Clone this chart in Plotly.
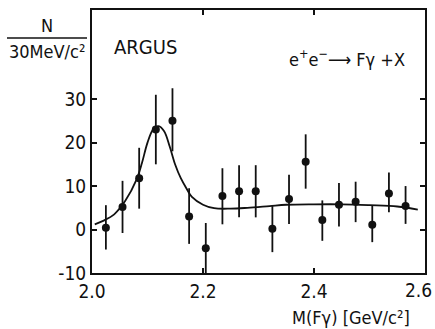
import plotly.graph_objects as go

# Data points (bin centres, counts, symmetric errors)
mass = [2.025, 2.055, 2.085, 2.115, 2.145, 2.175, 2.205, 2.235, 2.265, 2.295,
        2.325, 2.355, 2.385, 2.415, 2.445, 2.475, 2.505, 2.535, 2.565]
counts = [0.4, 5.2, 11.8, 23.0, 25.0, 3.0, -4.3, 7.7, 8.8, 8.8,
          0.2, 7.0, 15.6, 2.2, 5.7, 6.4, 1.1, 8.3, 5.4]
err_up = [5.2, 6.0, 7.0, 8.0, 7.5, 6.5, 5.8, 6.4, 6.0, 6.0,
          5.2, 5.6, 6.3, 4.5, 5.0, 4.6, 4.5, 4.8, 4.6]
err_dn = [5.0, 6.0, 7.0, 8.0, 7.0, 6.3, 5.7, 6.5, 6.0, 6.0,
          5.4, 5.7, 6.2, 4.8, 5.0, 4.7, 4.0, 4.3, 4.1]

# Fit curve
fit_x = [2.005, 2.02, 2.04, 2.06, 2.08, 2.09, 2.10, 2.11, 2.12, 2.13, 2.14,
         2.15, 2.16, 2.17, 2.18, 2.20, 2.22, 2.25, 2.28, 2.32, 2.35, 2.40,
         2.45, 2.50, 2.55, 2.587]
fit_y = [1.2, 2.0, 3.5, 6.6, 11.4, 15.3, 20.0, 23.0, 23.8, 22.6, 19.1,
         14.9, 11.8, 9.5, 7.5, 5.7, 4.9, 4.8, 5.0, 5.4, 5.7, 5.8,
         5.8, 5.6, 5.3, 4.6]

x_ticks = [2.0, 2.2, 2.4, 2.6]
x_ticktext = ["2.0", "2.2", "2.4", "2.6"]
y_ticks = [-10, 0, 10, 20, 30]
y_ticktext = ["-10", "0", "10", "20", "30"]

FONT = "DejaVu Sans Condensed, DejaVu Sans, sans-serif"
INK = "#111111"

fig = go.Figure()
fig.add_trace(go.Scatter(
    x=fit_x, y=fit_y, mode="lines", line=dict(color=INK, width=1.8, shape="spline"),
    hoverinfo="skip", showlegend=False))
fig.add_trace(go.Scatter(
    x=mass, y=counts, mode="markers",
    marker=dict(color=INK, size=8),
    error_y=dict(type="data", symmetric=False, array=err_up, arrayminus=err_dn,
                 color=INK, thickness=1.8, width=0),
    showlegend=False))

# plot area in pixels: x 92..425, y 10..273
L, R, T, B = 92, 425, 10, 273
W, H = R - L, B - T
def px(xp):
    return (xp - L) / W
def py(yp):
    return (B - yp) / H

axis_common = dict(showline=True, linecolor=INK, linewidth=2, mirror="ticks",
                   ticks="inside", ticklen=5, tickwidth=1.5, tickcolor=INK,
                   showgrid=False, zeroline=False, ticklabeloverflow="allow",
                   automargin=False,
                   tickfont=dict(family=FONT, size=19, color=INK))

# last x tick label is drawn as an annotation so it stays inside the page
x_ticktext_axis = x_ticktext[:-1] + [""]

fig.update_layout(
    width=435, height=329,
    margin=dict(l=L, r=435 - R, t=T, b=329 - B, autoexpand=False),
    paper_bgcolor="white", plot_bgcolor="white",
    xaxis=dict(range=[2.0, 2.6], tickvals=x_ticks, ticktext=x_ticktext_axis, **axis_common),
    yaxis=dict(range=[-10, 50.5], tickvals=y_ticks, ticktext=y_ticktext, **axis_common),
    font=dict(family=FONT, color=INK),
)

ann = [
    dict(text="ARGUS", x=px(112), y=py(47), xanchor="left", yanchor="middle", size=20),
    dict(text="e<sup>+</sup>e<sup>−</sup>⟶ Fγ +X", x=px(407), y=py(58), xanchor="right", yanchor="middle", size=18),
    dict(text="N", x=px(47), y=py(26), xanchor="center", yanchor="middle", size=18),
    dict(text="30MeV/c²", x=px(47), y=py(51), xanchor="center", yanchor="middle", size=18),
    dict(text="M(Fγ) [GeV/c²]", x=px(412), y=py(317), xanchor="right", yanchor="middle", size=18),
    dict(text=x_ticktext[-1], x=px(434), y=py(290), xanchor="right", yanchor="middle", size=19),
]
for a in ann:
    fig.add_annotation(text=a["text"], x=a["x"], y=a["y"], xref="paper", yref="paper",
                       xanchor=a["xanchor"], yanchor=a["yanchor"], showarrow=False,
                       font=dict(family=FONT, size=a["size"], color=INK))

fig.add_shape(type="line", xref="paper", yref="paper",
              x0=px(7), x1=px(87), y0=py(38), y1=py(38),
              line=dict(color=INK, width=1.5))

fig.write_html("out.html")
